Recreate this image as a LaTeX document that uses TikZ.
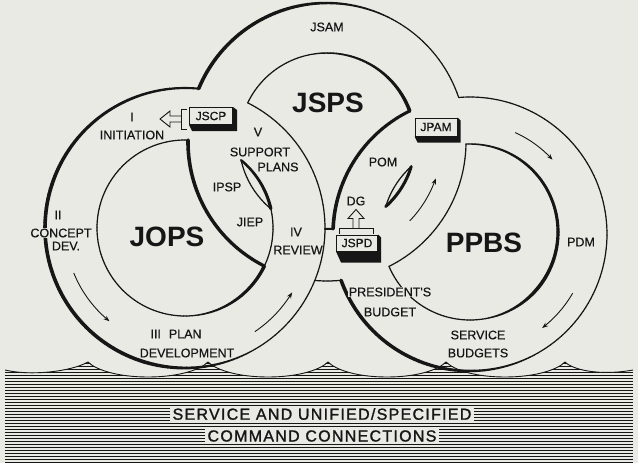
\documentclass[tikz,border=0pt]{standalone}
\usepackage{fontspec}
\setmainfont{Liberation Sans}
\newfontfamily\bandfont[LetterSpace=8,FakeBold=1.4]{Liberation Sans}
\newfontfamily\lblfont[FakeBold=0.6]{Liberation Sans}
\usetikzlibrary{arrows.meta,calc}
\definecolor{bg}{RGB}{234,234,228}
\definecolor{ink}{RGB}{22,22,22}

% angle (image coords, y down) on circle 1 of an intersection with circle 2
\newcommand\cang[8]{%
  \pgfmathsetmacro\tmpdx{(#5-#2)/100}%
  \pgfmathsetmacro\tmpdy{(#6-#3)/100}%
  \pgfmathsetmacro\tmpd{sqrt(\tmpdx*\tmpdx+\tmpdy*\tmpdy)}%
  \pgfmathsetmacro#1{atan2(\tmpdy,\tmpdx)+(#8)*acos((\tmpd*\tmpd+(#4/100)*(#4/100)-(#7/100)*(#7/100))/(2*\tmpd*#4/100))}%
}
% arc with linearly varying width: cx cy r a1 a2 w1 w2
\newcommand\warc[7]{%
  \pgfmathsetmacro\wA{#4}%
  \pgfmathsetmacro\wB{#5}%
  \pgfmathtruncatemacro\wN{max(1,ceil(abs(\wB-\wA)/2))}%
  \pgfmathsetmacro\wS{(\wB-\wA)/\wN}%
  \pgfmathsetmacro\wD{(#7-#6)/\wN}%
  \foreach \wI in {1,...,\wN}{%
    \pgfmathsetmacro\wTa{\wA+\wS*(\wI-1)}%
    \pgfmathsetmacro\wTb{\wA+\wS*\wI}%
    \pgfmathsetmacro\wLW{#6+\wD*(\wI-0.5)}%
    \draw[draw=ink,line width=\wLW pt,line cap=round,shift={(#1,#2)}] (\wTa:#3) -- (\wTb:#3);
  }%
}

\begin{document}
\begin{tikzpicture}[x=1pt,y=-1pt,
  lbl/.style={font=\lblfont\fontsize{12.5}{13}\selectfont,text=ink,inner sep=1pt},
  big/.style={font=\fontsize{28}{30}\selectfont\bfseries,text=ink,inner sep=0pt},
  band/.style={font=\bandfont\fontsize{16}{17}\selectfont,text=ink,fill=bg,inner xsep=3pt,inner ysep=1.5pt},
  tagbox/.style={draw=ink,fill=bg,line width=1pt,inner sep=0pt,font=\lblfont\fontsize{12}{12}\selectfont,text=ink},
  arr/.style={draw=ink,line width=0.9pt,-{Stealth[length=6pt,width=4.5pt]}},
  hollow/.style={draw=ink,line width=0.9pt,line join=miter},
  hatch/.style={draw=ink,line width=0.75pt}]
\useasboundingbox (0,0) rectangle (638,463);
\fill[bg] (0,0) rectangle (638,463);

% ---------- ground band ----------
\begin{scope}
\clip (5,370) .. controls (30,376) and (70,372) .. (88,362)
 .. controls (96,370) and (118,377) .. (148,377) .. controls (178,377) and (200,370) .. (208,362)
 .. controls (216,370) and (238,377) .. (268,377) .. controls (298,377) and (320,370) .. (328,362)
 .. controls (336,370) and (357,377) .. (387,377) .. controls (417,377) and (438,370) .. (446,362)
 .. controls (454,370) and (475,377) .. (505,377) .. controls (535,377) and (557,370) .. (565,362)
 .. controls (573,370) and (600,376) .. (633,370) -- (633,463) -- (5,463) -- cycle;
\foreach \yy in {363,366,...,462} \draw[hatch] (5,\yy) -- (633,\yy);
\end{scope}
\draw[draw=ink,line width=0.9pt] (5,370) .. controls (30,376) and (70,372) .. (88,362)
 .. controls (96,370) and (118,377) .. (148,377) .. controls (178,377) and (200,370) .. (208,362)
 .. controls (216,370) and (238,377) .. (268,377) .. controls (298,377) and (320,370) .. (328,362)
 .. controls (336,370) and (357,377) .. (387,377) .. controls (417,377) and (438,370) .. (446,362)
 .. controls (454,370) and (475,377) .. (505,377) .. controls (535,377) and (557,370) .. (565,362)
 .. controls (573,370) and (600,376) .. (633,370);
\node[band] (svc) at (322,414) {SERVICE AND UNIFIED/SPECIFIED};
\node[band] (cmd) at (322,436) {COMMAND CONNECTIONS};

% ---------- ring geometry ----------
\def\Ax{185}\def\Ay{228}
\def\Bx{327}\def\By{142}\def\Bix{327}\def\Biy{141}
\def\Cx{470}\def\Cy{234}\def\Cix{470}\def\Ciy{232}
\def\RAo{140}\def\RAi{88}\def\RBo{139}\def\RBi{88}\def\RCo{137}\def\RCi{88}

\cang{\aTa}{\Ax}{\Ay}{\RAo}{\Bx}{\By}{\RBo}{-1}
\cang{\aTb}{\Bx}{\By}{\RBo}{\Ax}{\Ay}{\RAo}{1}
\cang{\aBb}{\Bx}{\By}{\RBo}{\Ax}{\Ay}{\RAo}{-1}
\cang{\bTa}{\Ax}{\Ay}{\RAo}{\Bix}{\Biy}{\RBi}{-1}
\cang{\bTb}{\Bix}{\Biy}{\RBi}{\Ax}{\Ay}{\RAo}{1}
\cang{\bBb}{\Bix}{\Biy}{\RBi}{\Ax}{\Ay}{\RAo}{-1}
\cang{\cTa}{\Ax}{\Ay}{\RAi}{\Bx}{\By}{\RBo}{-1}
\cang{\cBa}{\Ax}{\Ay}{\RAi}{\Bx}{\By}{\RBo}{1}
\cang{\cTb}{\Bx}{\By}{\RBo}{\Ax}{\Ay}{\RAi}{1}
\cang{\cBb}{\Bx}{\By}{\RBo}{\Ax}{\Ay}{\RAi}{-1}
\cang{\dTa}{\Ax}{\Ay}{\RAi}{\Bix}{\Biy}{\RBi}{-1}
\cang{\dBa}{\Ax}{\Ay}{\RAi}{\Bix}{\Biy}{\RBi}{1}
\cang{\dTb}{\Bix}{\Biy}{\RBi}{\Ax}{\Ay}{\RAi}{1}
\cang{\dBb}{\Bix}{\Biy}{\RBi}{\Ax}{\Ay}{\RAi}{-1}
\cang{\eTa}{\Bx}{\By}{\RBo}{\Cx}{\Cy}{\RCo}{-1}
\cang{\eBa}{\Bx}{\By}{\RBo}{\Cx}{\Cy}{\RCo}{1}
\cang{\eTb}{\Cx}{\Cy}{\RCo}{\Bx}{\By}{\RBo}{1}
\cang{\eBb}{\Cx}{\Cy}{\RCo}{\Bx}{\By}{\RBo}{-1}
\cang{\fTa}{\Bix}{\Biy}{\RBi}{\Cx}{\Cy}{\RCo}{-1}
\cang{\fBa}{\Bix}{\Biy}{\RBi}{\Cx}{\Cy}{\RCo}{1}
\cang{\fTb}{\Cx}{\Cy}{\RCo}{\Bix}{\Biy}{\RBi}{1}
\cang{\fBb}{\Cx}{\Cy}{\RCo}{\Bix}{\Biy}{\RBi}{-1}
\cang{\gTa}{\Bx}{\By}{\RBo}{\Cix}{\Ciy}{\RCi}{-1}
\cang{\gBa}{\Bx}{\By}{\RBo}{\Cix}{\Ciy}{\RCi}{1}
\cang{\gTb}{\Cix}{\Ciy}{\RCi}{\Bx}{\By}{\RBo}{1}
\cang{\gBb}{\Cix}{\Ciy}{\RCi}{\Bx}{\By}{\RBo}{-1}
\cang{\hTa}{\Bix}{\Biy}{\RBi}{\Cix}{\Ciy}{\RCi}{-1}
\cang{\hBa}{\Bix}{\Biy}{\RBi}{\Cix}{\Ciy}{\RCi}{1}
\cang{\hTb}{\Cix}{\Ciy}{\RCi}{\Bix}{\Biy}{\RBi}{1}
\cang{\hBb}{\Cix}{\Ciy}{\RCi}{\Bix}{\Biy}{\RBi}{-1}

% JOPS outer
\warc{\Ax}{\Ay}{\RAo}{\bTa}{60}{1.2}{1.2}
\warc{\Ax}{\Ay}{\RAo}{60}{105}{1.2}{3.6}
\warc{\Ax}{\Ay}{\RAo}{105}{200}{3.6}{3.6}
\warc{\Ax}{\Ay}{\RAo}{200}{250}{3.6}{2.6}
\warc{\Ax}{\Ay}{\RAo}{250}{\aTa+360}{2.6}{2.0}
% JOPS inner
\warc{\Ax}{\Ay}{\RAi}{\dTa}{\dBa}{2.4}{3.2}
\warc{\Ax}{\Ay}{\RAi}{\dBa}{\cBa}{1.2}{1.2}
\warc{\Ax}{\Ay}{\RAi}{\cBa}{50}{3.4}{3.0}
\warc{\Ax}{\Ay}{\RAi}{50}{85}{3.0}{1.2}
\warc{\Ax}{\Ay}{\RAi}{85}{\cTa+360}{1.2}{1.2}
% JSPS outer
\warc{\Bx}{\By}{\RBo}{\aTb}{250}{3.6}{3.3}
\warc{\Bx}{\By}{\RBo}{250}{300}{3.3}{1.2}
\warc{\Bx}{\By}{\RBo}{300}{\eTa+360}{1.2}{1.2}
\warc{\Bx}{\By}{\RBo}{\cBb}{\cTb}{3.2}{3.6}
\warc{\Bx}{\By}{\RBo}{\gTa}{\gBa}{1.2}{1.2}
\warc{\Bx}{\By}{\RBo}{\eBa}{\aBb}{1.2}{1.2}
% JSPS inner
\warc{\Bix}{\Biy}{\RBi}{\bTb}{260}{1.2}{1.2}
\warc{\Bix}{\Biy}{\RBi}{260}{310}{1.2}{2.6}
\warc{\Bix}{\Biy}{\RBi}{310}{\fTa+360}{2.6}{3.6}
\warc{\Bix}{\Biy}{\RBi}{\hTa}{\hBa}{3.0}{3.0}
\warc{\Bix}{\Biy}{\RBi}{\fBa}{\bBb}{2.0}{2.0}
\warc{\Bix}{\Biy}{\RBi}{\dBb}{\dTb}{1.2}{1.2}
% PPBS outer
\warc{\Cx}{\Cy}{\RCo}{\fBb+360}{\fTb+360}{3.6}{3.0}
\warc{\Cx}{\Cy}{\RCo}{\eTb}{60}{1.2}{1.2}
\warc{\Cx}{\Cy}{\RCo}{60}{110}{1.2}{3.4}
\warc{\Cx}{\Cy}{\RCo}{110}{\eBb+360}{3.4}{3.6}
% PPBS inner
\warc{\Cix}{\Ciy}{\RCi}{\hBb+360}{\hTb+360}{1.2}{1.2}
\warc{\Cix}{\Ciy}{\RCi}{\gTb}{-50}{1.3}{2.6}
\warc{\Cix}{\Ciy}{\RCi}{-50}{40}{2.6}{3.6}
\warc{\Cix}{\Ciy}{\RCi}{40}{80}{3.6}{1.2}
\warc{\Cix}{\Ciy}{\RCi}{80}{\gBb+360}{1.2}{1.2}

% ---------- flow arrows ----------
\draw[arr] plot[smooth,samples=12,domain=158:129] ({\Ax+120*cos(\x)},{\Ay+120*sin(\x)});
\draw[arr] plot[smooth,samples=12,domain=56:31] ({\Ax+125*cos(\x)},{\Ay+125*sin(\x)});
\draw[arr] plot[smooth,samples=12,domain=44:19] ({\Bix+115*cos(\x)},{\Biy+115*sin(\x)});
\draw[arr] plot[smooth,samples=12,domain=-66:-42] ({\Cx+111*cos(\x)},{\Cy+111*sin(\x)});
\draw[arr] plot[smooth,samples=12,domain=30:52.5] ({\Cx+118.5*cos(\x)},{\Cy+118.5*sin(\x)});

% ---------- boxes ----------
\node[tagbox,minimum width=43pt,minimum height=17pt] (jscp) at (211,116) {JSCP};
\fill[ink] (jscp.south west) -- ($(jscp.south west)+(3,6)$) -- ($(jscp.south east)+(4,6)$) -- ($(jscp.north east)+(4,3)$) -- (jscp.north east) -- (jscp.south east) -- cycle;
\node[tagbox,minimum width=42pt,minimum height=18pt] (jpam) at (436,127) {JPAM};
\fill[ink] (jpam.south west) -- ($(jpam.south west)+(3,6)$) -- ($(jpam.south east)+(3,6)$) -- ($(jpam.north east)+(3,3)$) -- (jpam.north east) -- (jpam.south east) -- cycle;
\node[tagbox,minimum width=41pt,minimum height=16pt] (jspd) at (357,243) {JSPD};
\fill[ink] (jspd.south west) -- ($(jspd.south west)+(5,11)$) -- ($(jspd.south east)+(3,11)$) -- ($(jspd.north east)+(3,3)$) -- (jspd.north east) -- (jspd.south east) -- cycle;

% hollow arrow JSCP -> left
\draw[hollow] ($(jscp.west)+(-2,-7)$) -- ++(-6,0) -- ++(0,20) -- ++(6,0);
\draw[hollow] ($(jscp.west)+(-8,0)$) -- ++(-11,0) -- ++(0,-5) -- ++(-10,8) -- ++(10,8) -- ++(0,-5) -- ++(11,0);
% hollow arrow JSPD -> DG
\node[lbl] (dg) at (356,201) {DG};
\draw[hollow] ($(jspd.north)+(-18,-1)$) -- ++(0,-5) -- ++(34,0) -- ++(0,5);
\draw[hollow] ($(jspd.north)+(-4,-6)$) -- ++(0,-10) -- ++(-5,0) -- ++(8,-9) -- ++(8,9) -- ++(-5,0) -- ++(0,10);

% ---------- labels ----------
\node[lbl] (jsam) at (327,27) {JSAM};
\node[big] (jsps) at (328,103) {JSPS};
\node[big] (jops) at (167,237) {JOPS};
\node[big] (ppbs) at (484,243) {PPBS};
\node[lbl] (l1) at (132,117) {I};
\node[lbl] (init) at (132,135) {INITIATION};
\node[lbl] (l5) at (258,132) {V};
\node[lbl] (supp) at (260,152) {SUPPORT};
\node[lbl] (plans) at (278,167) {PLANS};
\node[lbl] (ipsp) at (227,187) {IPSP};
\node[lbl] (jiep) at (250,222) {JIEP};
\node[lbl] (l4) at (296,232) {IV};
\node[lbl] (rev) at (298,250) {REVIEW};
\node[lbl] (l2) at (58,215) {II};
\node[lbl,fill=bg] (conc) at (61,233) {CONCEPT};
\node[lbl] (dev) at (66,246) {DEV.};
\node[lbl] (l3) at (176,334) {III\hspace{8pt}PLAN};
\node[lbl] (pdev) at (187,353) {DEVELOPMENT};
\node[lbl] (pom) at (383,162) {POM};
\node[lbl] (pdm) at (581,242) {PDM};
\node[lbl,fill=bg] (pres) at (390,292) {PRESIDENT'S};
\node[lbl,fill=bg] (budg) at (390,312) {BUDGET};
\node[lbl] (serv) at (478,335) {SERVICE};
\node[lbl] (sbud) at (478,353) {BUDGETS};
\end{tikzpicture}
\end{document}
